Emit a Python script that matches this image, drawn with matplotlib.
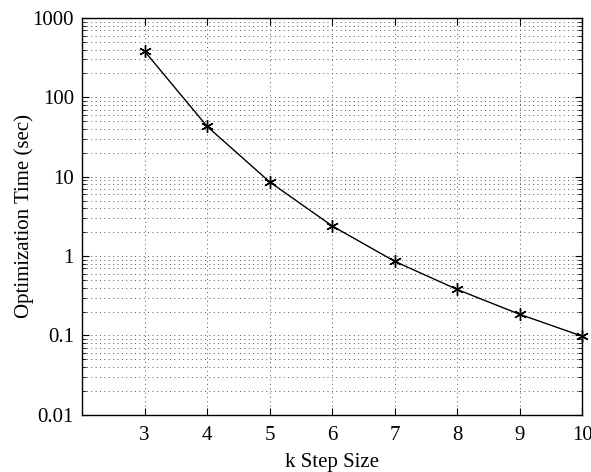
import numpy as np
import matplotlib.pyplot as plt
from matplotlib.ticker import LogLocator, NullFormatter

plt.rcParams['font.family'] = ['Liberation Serif', 'DejaVu Serif']

k_step = [3, 4, 5, 6, 7, 8, 9, 10]
opt_time = [380, 43, 8.6, 2.4, 0.86, 0.38, 0.185, 0.098]
y_ticks = [0.01, 0.1, 1, 10, 100, 1000]
y_tick_labels = ['0.01', '0.1', '1', '10', '100', '1000']

fig = plt.figure(figsize=(5.91, 4.72), dpi=100)
ax = fig.add_axes([0.139, 0.121, 0.846, 0.841])

ax.plot(k_step, opt_time, color='k', linewidth=1.0,
        marker=(6, 2, 0), markersize=9, markeredgewidth=1.0, clip_on=False, zorder=3)

ax.set_yscale('log')
ax.set_xlim(2, 10)
ax.set_ylim(0.01, 1000)
ax.set_xticks(k_step)
ax.set_yticks(y_ticks)
ax.set_yticklabels(y_tick_labels)
ax.yaxis.set_minor_locator(LogLocator(base=10, subs=np.arange(2, 10)))
ax.yaxis.set_minor_formatter(NullFormatter())

dots = (0, (1, 3.5))
ax.grid(True, which='major', linestyle=dots, color='#555555', linewidth=0.7)
ax.grid(True, which='minor', axis='y', linestyle=dots, color='#555555', linewidth=0.7)

ax.tick_params(which='both', direction='in', top=True, right=True, labelsize=15)
ax.tick_params(which='major', length=5)
ax.tick_params(which='minor', length=3)
ax.tick_params(axis='x', pad=8)
ax.tick_params(axis='y', pad=6)
for s in ax.spines.values():
    s.set_linewidth(1.0)

ax.set_xlabel('k Step Size', fontsize=15, labelpad=6)
ax.set_ylabel('Optimization Time (sec)', fontsize=15, labelpad=-1)

fig.savefig('out.png', dpi=100)
